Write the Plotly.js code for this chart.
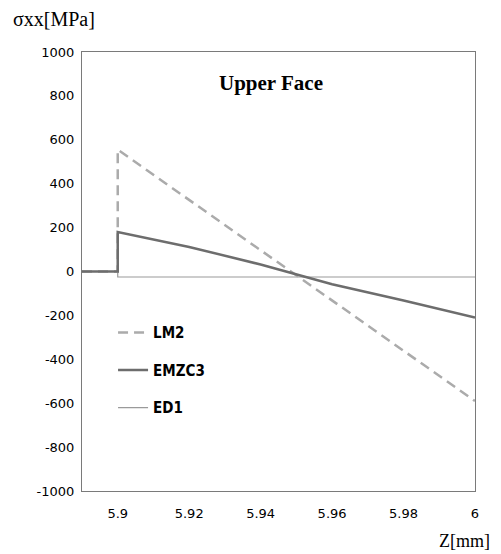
<!DOCTYPE html>
<html>
<head>
<meta charset="utf-8">
<script src="https://cdn.plot.ly/plotly-3.0.1.min.js"></script>
<style>html,body{margin:0;padding:0;background:#fff;}#chart{width:501px;height:554px;}</style>
</head>
<body>
<div id="chart"></div>
<script>
// Data
const zLM2 = [5.89, 5.9, 5.9, 6.0];
const sLM2 = [0, 0, 555, -590];

const zEMZC3 = [5.89, 5.9, 5.9, 5.92, 5.94, 5.96, 5.98, 6.0];
const sEMZC3 = [0, 0, 180, 112, 32, -58, -132, -210];

const zED1 = [5.89, 5.9, 5.9, 6.0];
const sED1 = [0, 0, -25, -25];

const xTicks = [5.9, 5.92, 5.94, 5.96, 5.98, 6];
const xTickText = ['5.9', '5.92', '5.94', '5.96', '5.98', '6'];
const yTicks = [-1000, -800, -600, -400, -200, 0, 200, 400, 600, 800, 1000];
const yTickText = ['-1000', '-800', '-600', '-400', '-200', '0', '200', '400', '600', '800', '1000'];

const legendFont = {family: '"Liberation Sans Narrow", "Arial Narrow", "DejaVu Sans Condensed", sans-serif', size: 15, color: '#000', weight: 'bold'};

const traces = [
  {x: zED1, y: sED1, name: '<b>ED1</b>', mode: 'lines', legendgroup: 'c', legendrank: 3,
   line: {color: '#9a9a9a', width: 1.2}},
  {x: zLM2, y: sLM2, name: '<b>LM2</b>', mode: 'lines', legendgroup: 'a', legendrank: 1,
   line: {color: '#ababab', width: 2.5, dash: '10px,6px'}},
  {x: zEMZC3, y: sEMZC3, name: '<b>EMZC3</b>', mode: 'lines', legendgroup: 'b', legendrank: 2,
   line: {color: '#6d6d6d', width: 2.5}}
];

const tickFont = {family: '"DejaVu Sans", sans-serif', size: 13, color: '#000'};

const layout = {
  width: 501, height: 554,
  margin: {l: 82, r: 26, t: 52, b: 63},
  paper_bgcolor: '#fff', plot_bgcolor: '#fff',
  showlegend: true,
  legend: {x: 0.079, y: 0.398, xanchor: 'left', yanchor: 'top', bgcolor: 'rgba(0,0,0,0)',
           font: legendFont, traceorder: 'grouped', tracegroupgap: 15},
  xaxis: {range: [5.89, 6.0], tickvals: xTicks, ticktext: xTickText, showgrid: false, zeroline: false,
          showline: true, mirror: true, linecolor: '#7a7a7a', linewidth: 1, ticks: '',
          tickfont: tickFont, ticklabelstandoff: 10},
  yaxis: {range: [-1000, 1000], tickvals: yTicks, ticktext: yTickText, showgrid: false, zeroline: false,
          showline: true, mirror: true, linecolor: '#7a7a7a', linewidth: 1, ticks: '',
          tickfont: tickFont, ticklabelstandoff: 4},
  annotations: [
    {text: '<b>Upper Face</b>', xref: 'paper', yref: 'paper', x: 0.48, y: 0.93, xanchor: 'center', yanchor: 'middle',
     showarrow: false, font: {family: '"Liberation Serif", "Times New Roman", serif', size: 21, color: '#000'}},
    {text: 'σxx[MPa]', xref: 'paper', yref: 'paper', x: -0.18, y: 1.075, xanchor: 'left', yanchor: 'middle',
     showarrow: false, font: {family: '"Liberation Serif", "Times New Roman", serif', size: 20, color: '#000'}},
    {text: 'Z[mm]', xref: 'paper', yref: 'paper', x: 1.042, y: -0.113, xanchor: 'right', yanchor: 'middle',
     showarrow: false, font: {family: '"Liberation Serif", "Times New Roman", serif', size: 18, color: '#000'}}
  ]
};

Plotly.newPlot('chart', traces, layout, {displayModeBar: false, staticPlot: true});
</script>
</body>
</html>
